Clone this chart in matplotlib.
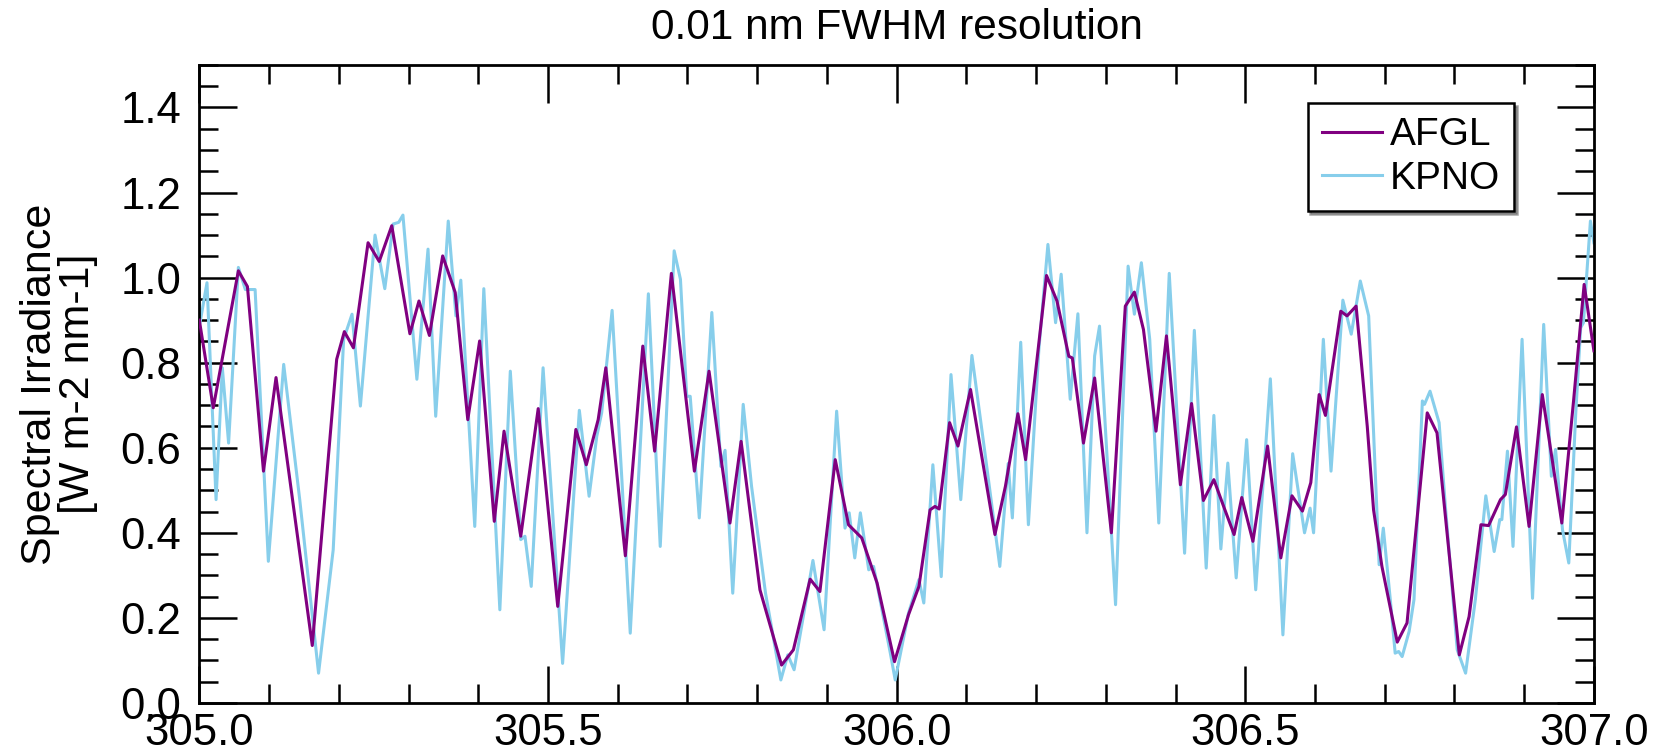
import matplotlib.pyplot as plt
from matplotlib.ticker import MultipleLocator, FormatStrFormatter

plt.rcParams['font.family'] = ['Liberation Sans', 'DejaVu Sans']

# AFGL spectrum, peaks / troughs
afgl_wl = [305.000, 305.020, 305.056, 305.069, 305.092, 305.110, 305.162, 305.197, 305.208, 305.221,
           305.242, 305.258, 305.276, 305.302, 305.315, 305.330, 305.349, 305.367, 305.385, 305.402,
           305.423, 305.437, 305.461, 305.486, 305.514, 305.540, 305.555, 305.572, 305.583, 305.611,
           305.636, 305.653, 305.677, 305.710, 305.731, 305.761, 305.777, 305.804, 305.835, 305.852,
           305.876, 305.890, 305.912, 305.931, 305.950, 305.972, 305.997, 306.017, 306.032, 306.048,
           306.055, 306.061, 306.076, 306.088, 306.106, 306.141, 306.156, 306.174, 306.185, 306.215,
           306.230, 306.247, 306.252, 306.268, 306.284, 306.308, 306.328, 306.341, 306.354, 306.372,
           306.387, 306.407, 306.423, 306.440, 306.455, 306.469, 306.484, 306.495, 306.511, 306.532,
           306.551, 306.567, 306.582, 306.594, 306.606, 306.615, 306.637, 306.646, 306.659, 306.675,
           306.684, 306.696, 306.718, 306.732, 306.761, 306.775, 306.807, 306.821, 306.838, 306.849,
           306.866, 306.873, 306.889, 306.907, 306.926, 306.954, 306.971, 306.986, 307.000]
afgl_val = [0.90, 0.694, 1.016, 0.979, 0.545, 0.765, 0.135, 0.808, 0.873, 0.835,
            1.082, 1.038, 1.122, 0.868, 0.945, 0.864, 1.051, 0.965, 0.666, 0.851,
            0.427, 0.639, 0.392, 0.692, 0.227, 0.643, 0.560, 0.666, 0.788, 0.346,
            0.839, 0.592, 1.010, 0.545, 0.780, 0.423, 0.615, 0.266, 0.089, 0.125,
            0.291, 0.262, 0.572, 0.419, 0.388, 0.282, 0.097, 0.207, 0.274, 0.454,
            0.462, 0.456, 0.659, 0.604, 0.737, 0.396, 0.509, 0.680, 0.572, 1.005,
            0.945, 0.815, 0.811, 0.611, 0.764, 0.400, 0.933, 0.966, 0.878, 0.639,
            0.863, 0.513, 0.704, 0.476, 0.525, 0.462, 0.396, 0.483, 0.380, 0.604,
            0.341, 0.487, 0.451, 0.518, 0.725, 0.676, 0.921, 0.910, 0.933, 0.65,
            0.454, 0.321, 0.143, 0.188, 0.682, 0.635, 0.113, 0.203, 0.419, 0.417,
            0.478, 0.490, 0.649, 0.415, 0.725, 0.423, 0.713, 0.984, 0.828]

# KPNO spectrum
kpno_wl = [305.001, 305.011, 305.024, 305.033, 305.042, 305.056, 305.066, 305.080, 305.099, 305.121,
           305.144, 305.171, 305.192, 305.207, 305.219, 305.231, 305.252, 305.266, 305.278, 305.286,
           305.292, 305.312,
           305.328, 305.339, 305.357, 305.368, 305.375, 305.395, 305.408, 305.431, 305.446, 305.461,
           305.467, 305.476, 305.493, 305.521, 305.545, 305.559, 305.570, 305.577, 305.592, 305.606,
           305.618, 305.644, 305.661,
           305.681, 305.690, 305.699, 305.704, 305.717, 305.735, 305.748, 305.754, 305.765, 305.780,
           305.792, 305.812, 305.834, 305.844, 305.853, 305.880, 305.896, 305.914, 305.926, 305.932,
           305.940, 305.948, 305.960, 305.967, 305.991, 305.998,
           306.017, 306.032, 306.039, 306.052, 306.064, 306.078, 306.092, 306.108, 306.127, 306.148,
           306.160, 306.166, 306.178, 306.189, 306.204, 306.217, 306.228, 306.236, 306.249, 306.260,
           306.273, 306.284, 306.291, 306.314, 306.332, 306.341,
           306.351, 306.363, 306.376, 306.391, 306.413, 306.427, 306.444, 306.455, 306.465, 306.475,
           306.487, 306.502, 306.515, 306.536, 306.554, 306.568, 306.585, 306.593, 306.598, 306.612,
           306.623, 306.640, 306.652, 306.665,
           306.677, 306.684, 306.692, 306.698, 306.708, 306.715, 306.720, 306.725, 306.735, 306.742,
           306.754, 306.757, 306.765, 306.778, 306.787, 306.804, 306.816, 306.830, 306.845, 306.857,
           306.865, 306.868, 306.876, 306.884, 306.897, 306.912, 306.928, 306.939, 306.945, 306.955,
           306.964, 306.974, 306.981, 306.985, 306.995, 307.000]
kpno_val = [0.894, 0.988, 0.478, 0.788, 0.611, 1.024, 0.972, 0.972, 0.333, 0.796,
            0.478, 0.070, 0.360, 0.855, 0.914, 0.698, 1.100, 0.974, 1.126, 1.130,
            1.147, 0.761,
            1.067, 0.674, 1.133, 0.910, 0.994, 0.415, 0.974, 0.219, 0.780, 0.384,
            0.392, 0.274, 0.788, 0.093, 0.688, 0.486, 0.627, 0.682, 0.923, 0.525,
            0.164, 0.962, 0.368,
            1.063, 0.996, 0.721, 0.721, 0.435, 0.918, 0.556, 0.594, 0.258, 0.702,
            0.509, 0.258, 0.054, 0.113, 0.078, 0.335, 0.172, 0.686, 0.411, 0.447,
            0.341, 0.447, 0.313, 0.321, 0.117, 0.054,
            0.211, 0.290, 0.235, 0.560, 0.297, 0.772, 0.478, 0.817, 0.584, 0.321,
            0.563, 0.435, 0.848, 0.419, 0.831, 1.078, 0.894, 1.008, 0.714, 0.915,
            0.400, 0.816, 0.886, 0.231, 1.027, 0.914,
            1.035, 0.855, 0.423, 1.010, 0.352, 0.876, 0.317, 0.676, 0.362, 0.564,
            0.294, 0.619, 0.266, 0.762, 0.160, 0.586, 0.400, 0.458, 0.400, 0.855,
            0.545, 0.947, 0.867, 0.992,
            0.910, 0.635, 0.325, 0.411, 0.243, 0.117, 0.121, 0.109, 0.168, 0.243,
            0.710, 0.702, 0.733, 0.659, 0.462, 0.125, 0.070, 0.243, 0.487, 0.356,
            0.431, 0.431, 0.592, 0.368, 0.855, 0.246, 0.890, 0.533, 0.596, 0.407,
            0.329, 0.682, 0.882, 0.894, 1.133, 1.082]

fig = plt.figure(figsize=(16.61, 7.51), dpi=100)
ax = fig.add_axes([0.12, 0.064, 0.8396, 0.8495])

ax.plot(kpno_wl, kpno_val, color='#87ceeb', lw=2.2, label='KPNO', zorder=2,
        solid_joinstyle='round')
ax.plot(afgl_wl, afgl_val, color='purple', lw=2.2, label='AFGL', zorder=3,
        solid_joinstyle='round')

ax.set_xlim(305.0, 307.0)
ax.set_ylim(0.0, 1.5)
ax.xaxis.set_major_locator(MultipleLocator(0.5))
ax.xaxis.set_minor_locator(MultipleLocator(0.1))
ax.yaxis.set_major_locator(MultipleLocator(0.2))
ax.yaxis.set_minor_locator(MultipleLocator(0.05))
ax.xaxis.set_major_formatter(FormatStrFormatter('%.1f'))
ax.yaxis.set_major_formatter(FormatStrFormatter('%.1f'))

ax.tick_params(which='both', direction='in', top=True, right=True, width=1.8, labelsize=31.5)
ax.tick_params(which='major', length=27)
ax.tick_params(which='minor', length=13.5)
ax.tick_params(axis='y', which='major', pad=13)
ax.tick_params(axis='x', which='major', pad=7)
for s in ax.spines.values():
    s.set_linewidth(2)

ax.set_title('0.01 nm FWHM resolution', fontsize=30.5, pad=19)
ax.set_ylabel('Spectral Irradiance\n[W m-2 nm-1]', fontsize=31, labelpad=16, linespacing=0.95)

h, l = ax.get_legend_handles_labels()
leg = ax.legend(h[::-1], l[::-1], loc='upper right', bbox_to_anchor=(0.9426, 0.94),
                borderaxespad=0, fontsize=28, frameon=True, fancybox=False, shadow=True,
                edgecolor='black', handlelength=1.55, borderpad=0.36, labelspacing=0.2,
                handletextpad=0.2)
leg.get_frame().set_linewidth(1.8)

fig.savefig('out.png', dpi=100)
